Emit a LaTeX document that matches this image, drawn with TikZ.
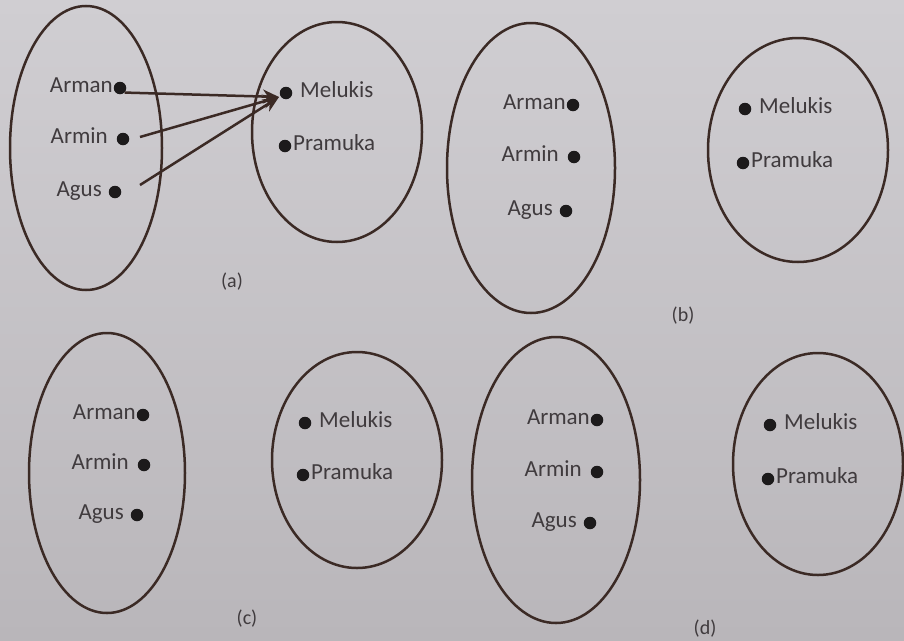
\documentclass[tikz,border=0pt]{standalone}
\usepackage{fontspec}
\setmainfont{Carlito}
\usetikzlibrary{shapes.geometric,arrows.meta}
\definecolor{bgtop}{HTML}{D0CED2}
\definecolor{bgbot}{HTML}{B9B6BA}
\definecolor{ink}{HTML}{3B2A25}
\definecolor{txt}{HTML}{403B3E}
\definecolor{dotc}{HTML}{1C1A1B}
\tikzset{
  setshape/.style={ellipse, draw=ink, line width=2.5pt, inner sep=0pt},
  dotnode/.style={circle, fill=dotc, minimum size=12.5pt, inner sep=0pt},
  lbl/.style={font=\fontsize{23}{26}\selectfont, text=txt, inner sep=0pt, yshift=-2.5pt},
  captext/.style={font=\fontsize{20}{23}\selectfont, text=txt, inner sep=0pt},
  arr/.style={draw=ink, line width=2.5pt, -{Stealth[length=16pt,width=14pt,inset=5pt]}}
}
\begin{document}
\begin{tikzpicture}[x=1pt,y=-1pt]
\useasboundingbox (0,0) rectangle (904,640);
\fill[top color=bgtop, bottom color=bgbot] (0,0) rectangle (904,640);

% ---------- (a) ----------
\node[setshape, minimum width=152pt, minimum height=284pt] (aL) at (86,148) {};
\node[setshape, minimum width=170pt, minimum height=220pt] (aR) at (337,132) {};
\node[dotnode] (aArman) at (120,88) {};
\node[dotnode] (aArmin) at (123,139) {};
\node[dotnode] (aAgus) at (115,192) {};
\node[dotnode] (aMel) at (286,93) {};
\node[dotnode] (aPra) at (285,146) {};
\node[lbl, anchor=mid east] (aArmanT) at ([xshift=-7pt]aArman.center) {Arman};
\node[lbl, anchor=mid east] (aArminT) at ([xshift=-15pt]aArmin.center) {Armin};
\node[lbl, anchor=mid east] (aAgusT) at ([xshift=-13pt]aAgus.center) {Agus};
\node[lbl, anchor=mid west] (aMelT) at ([xshift=14pt]aMel.center) {Melukis};
\node[lbl, anchor=mid west] (aPraT) at ([xshift=8pt]aPra.center) {Pramuka};
\node[captext] (acap) at (232,282) {(a)};
\coordinate (aTip) at (279,97);
\coordinate (aS2) at (140,137);
\coordinate (aS3) at (140,185);
\draw[arr] (aArman.south east) -- (aTip);
\draw[arr] (aS2) -- (aTip);
\draw[arr] (aS3) -- (aTip);

% ---------- (b) ----------
\node[setshape, minimum width=168pt, minimum height=290pt] (bL) at (531,168) {};
\node[setshape, minimum width=180pt, minimum height=224pt] (bR) at (798,150) {};
\node[dotnode] (bArman) at (573,105) {};
\node[dotnode] (bArmin) at (574,157) {};
\node[dotnode] (bAgus) at (566,211) {};
\node[dotnode] (bMel) at (745,109) {};
\node[dotnode] (bPra) at (743,163) {};
\node[lbl, anchor=mid east] (bArmanT) at ([xshift=-7pt]bArman.center) {Arman};
\node[lbl, anchor=mid east] (bArminT) at ([xshift=-15pt]bArmin.center) {Armin};
\node[lbl, anchor=mid east] (bAgusT) at ([xshift=-13pt]bAgus.center) {Agus};
\node[lbl, anchor=mid west] (bMelT) at ([xshift=14pt]bMel.center) {Melukis};
\node[lbl, anchor=mid west] (bPraT) at ([xshift=8pt]bPra.center) {Pramuka};
\node[captext] (bcap) at (683,316) {(b)};

% ---------- (c) ----------
\node[setshape, minimum width=156pt, minimum height=280pt] (cL) at (107,473) {};
\node[setshape, minimum width=170pt, minimum height=216pt] (cR) at (357,460) {};
\node[dotnode] (cArman) at (143,415) {};
\node[dotnode] (cArmin) at (144,465) {};
\node[dotnode] (cAgus) at (137,515) {};
\node[dotnode] (cMel) at (305,423) {};
\node[dotnode] (cPra) at (303,475) {};
\node[lbl, anchor=mid east] (cArmanT) at ([xshift=-7pt]cArman.center) {Arman};
\node[lbl, anchor=mid east] (cArminT) at ([xshift=-15pt]cArmin.center) {Armin};
\node[lbl, anchor=mid east] (cAgusT) at ([xshift=-13pt]cAgus.center) {Agus};
\node[lbl, anchor=mid west] (cMelT) at ([xshift=14pt]cMel.center) {Melukis};
\node[lbl, anchor=mid west] (cPraT) at ([xshift=8pt]cPra.center) {Pramuka};
\node[captext] (ccap) at (247,619) {(c)};

% ---------- (d) ----------
\node[setshape, minimum width=168pt, minimum height=286pt] (dL) at (556,480) {};
\node[setshape, minimum width=170pt, minimum height=222pt] (dR) at (818,464) {};
\node[dotnode] (dArman) at (597,420) {};
\node[dotnode] (dArmin) at (597,472) {};
\node[dotnode] (dAgus) at (590,523) {};
\node[dotnode] (dMel) at (770,425) {};
\node[dotnode] (dPra) at (768,479) {};
\node[lbl, anchor=mid east] (dArmanT) at ([xshift=-7pt]dArman.center) {Arman};
\node[lbl, anchor=mid east] (dArminT) at ([xshift=-15pt]dArmin.center) {Armin};
\node[lbl, anchor=mid east] (dAgusT) at ([xshift=-13pt]dAgus.center) {Agus};
\node[lbl, anchor=mid west] (dMelT) at ([xshift=14pt]dMel.center) {Melukis};
\node[lbl, anchor=mid west] (dPraT) at ([xshift=8pt]dPra.center) {Pramuka};
\node[captext] (dcap) at (705,629) {(d)};
\end{tikzpicture}
\end{document}
